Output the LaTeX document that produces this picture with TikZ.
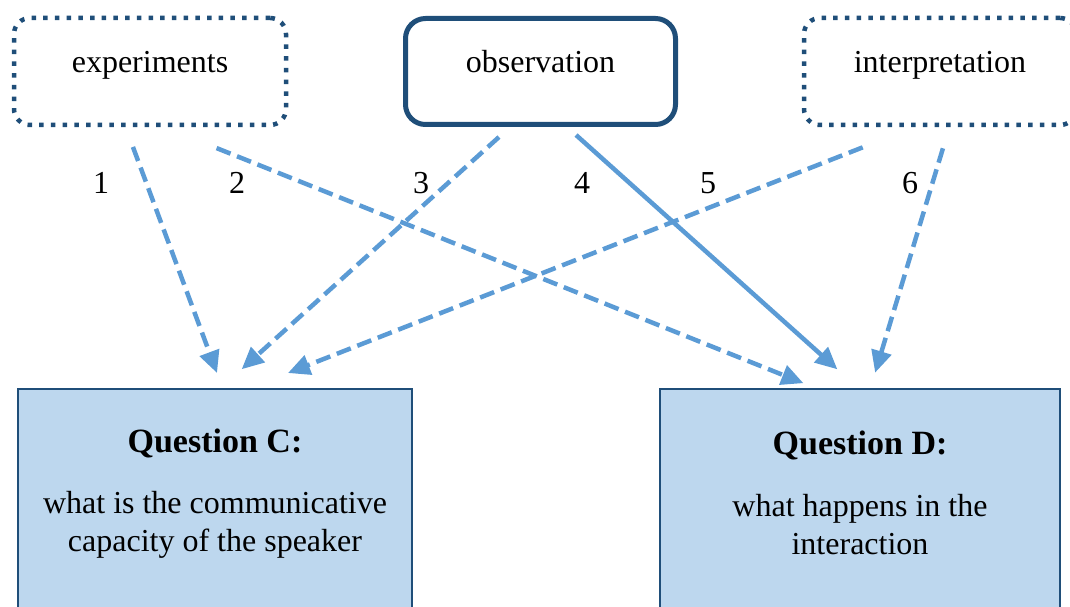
\documentclass[tikz,border=0pt]{standalone}
\usepackage{fontspec}
\setmainfont{Liberation Serif}
\usepackage{tikz}
\usetikzlibrary{arrows.meta}
\usetikzlibrary{positioning,calc}
\usepackage{xcolor}
\definecolor{navy}{RGB}{31,78,121}
\definecolor{linkblue}{RGB}{91,155,213}
\definecolor{qfill}{RGB}{189,215,238}
\tikzset{
  every node/.style={font=\fontsize{32}{38}\selectfont},
  every label/.style={font=\fontsize{32}{38}\selectfont}
}

\begin{document}
\begin{tikzpicture}[x=1pt,y=-1pt]
  \tikzset{
    source/.style={
      draw=navy,
      rounded corners=16pt,
      minimum width=272pt,
      minimum height=107pt,
      text height=24pt,
      text depth=22pt,
      line width=4.5pt,
      dash pattern=on 4.5pt off 7.2pt
    },
    mainsource/.style={
      draw=navy,
      rounded corners=20pt,
      minimum width=270pt,
      minimum height=106pt,
      text height=24pt,
      text depth=22pt,
      line width=5pt
    },
    question/.style={
      draw=navy,
      fill=qfill,
      line width=2pt,
      minimum height=260pt,
      anchor=north
    },
    link/.style={
      draw=linkblue,
      line width=4.5pt,
      -{Triangle[length=22pt, width=20pt]}
    },
    dashlink/.style={
      link,
      dash pattern=on 15pt off 7pt
    }
  }
  \useasboundingbox (0,0) rectangle (1070,607);

  \node[source] (exp) at (150,71.5) {experiments};
  \node[mainsource] (obs) at (540.5,71.5) {observation};
  \node[source] (intp) at (940,71.5) {interpretation};

  \node[question, minimum width=394pt] (qc) at (215,388) {};
  \node[question, minimum width=400pt] (qd) at (860,388) {};

  \node (qctitle) at ([yshift=-55pt]qc.north) {\fontsize{34}{40}\selectfont\bfseries Question C:};
  \node[align=center] (qctext) at ([yshift=-137pt]qc.north) {what is the communicative\\capacity of the speaker};
  \node (qdtitle) at ([yshift=-57pt]qd.north) {\fontsize{34}{40}\selectfont\bfseries Question D:};
  \node[align=center] (qdtext) at ([yshift=-137pt]qd.north) {what happens in the\\interaction};

  \draw[dashlink, shorten <=21pt, shorten >=16pt] ([xshift=-24.4pt]exp.south) -- ([xshift=7.6pt]qc.north);
  \draw[dashlink, shorten <=56pt, shorten >=13pt] ([xshift=14.6pt]exp.south) -- ([xshift=-44.5pt]qd.north);
  \draw[dashlink, shorten <=15pt, shorten >=28pt] ([xshift=-30.4pt]obs.south) -- ([xshift=5.9pt]qc.north);
  \draw[link, shorten <=12pt, shorten >=28pt] ([xshift=26.6pt]obs.south) -- ([xshift=-1.8pt]qd.north);
  \draw[dashlink, shorten <=55pt, shorten >=41pt] ([xshift=-26.1pt]intp.south) -- ([xshift=34.8pt]qc.north);
  \draw[dashlink, shorten <=22pt, shorten >=16pt] ([xshift=9.3pt]intp.south) -- ([xshift=10.5pt]qd.north);

  \node (n1) at (101,183) {1};
  \node (n2) at (237,183) {2};
  \node (n3) at (421,183) {3};
  \node (n4) at (582,183) {4};
  \node (n5) at (708,183) {5};
  \node (n6) at (910,183) {6};
\end{tikzpicture}
\end{document}
